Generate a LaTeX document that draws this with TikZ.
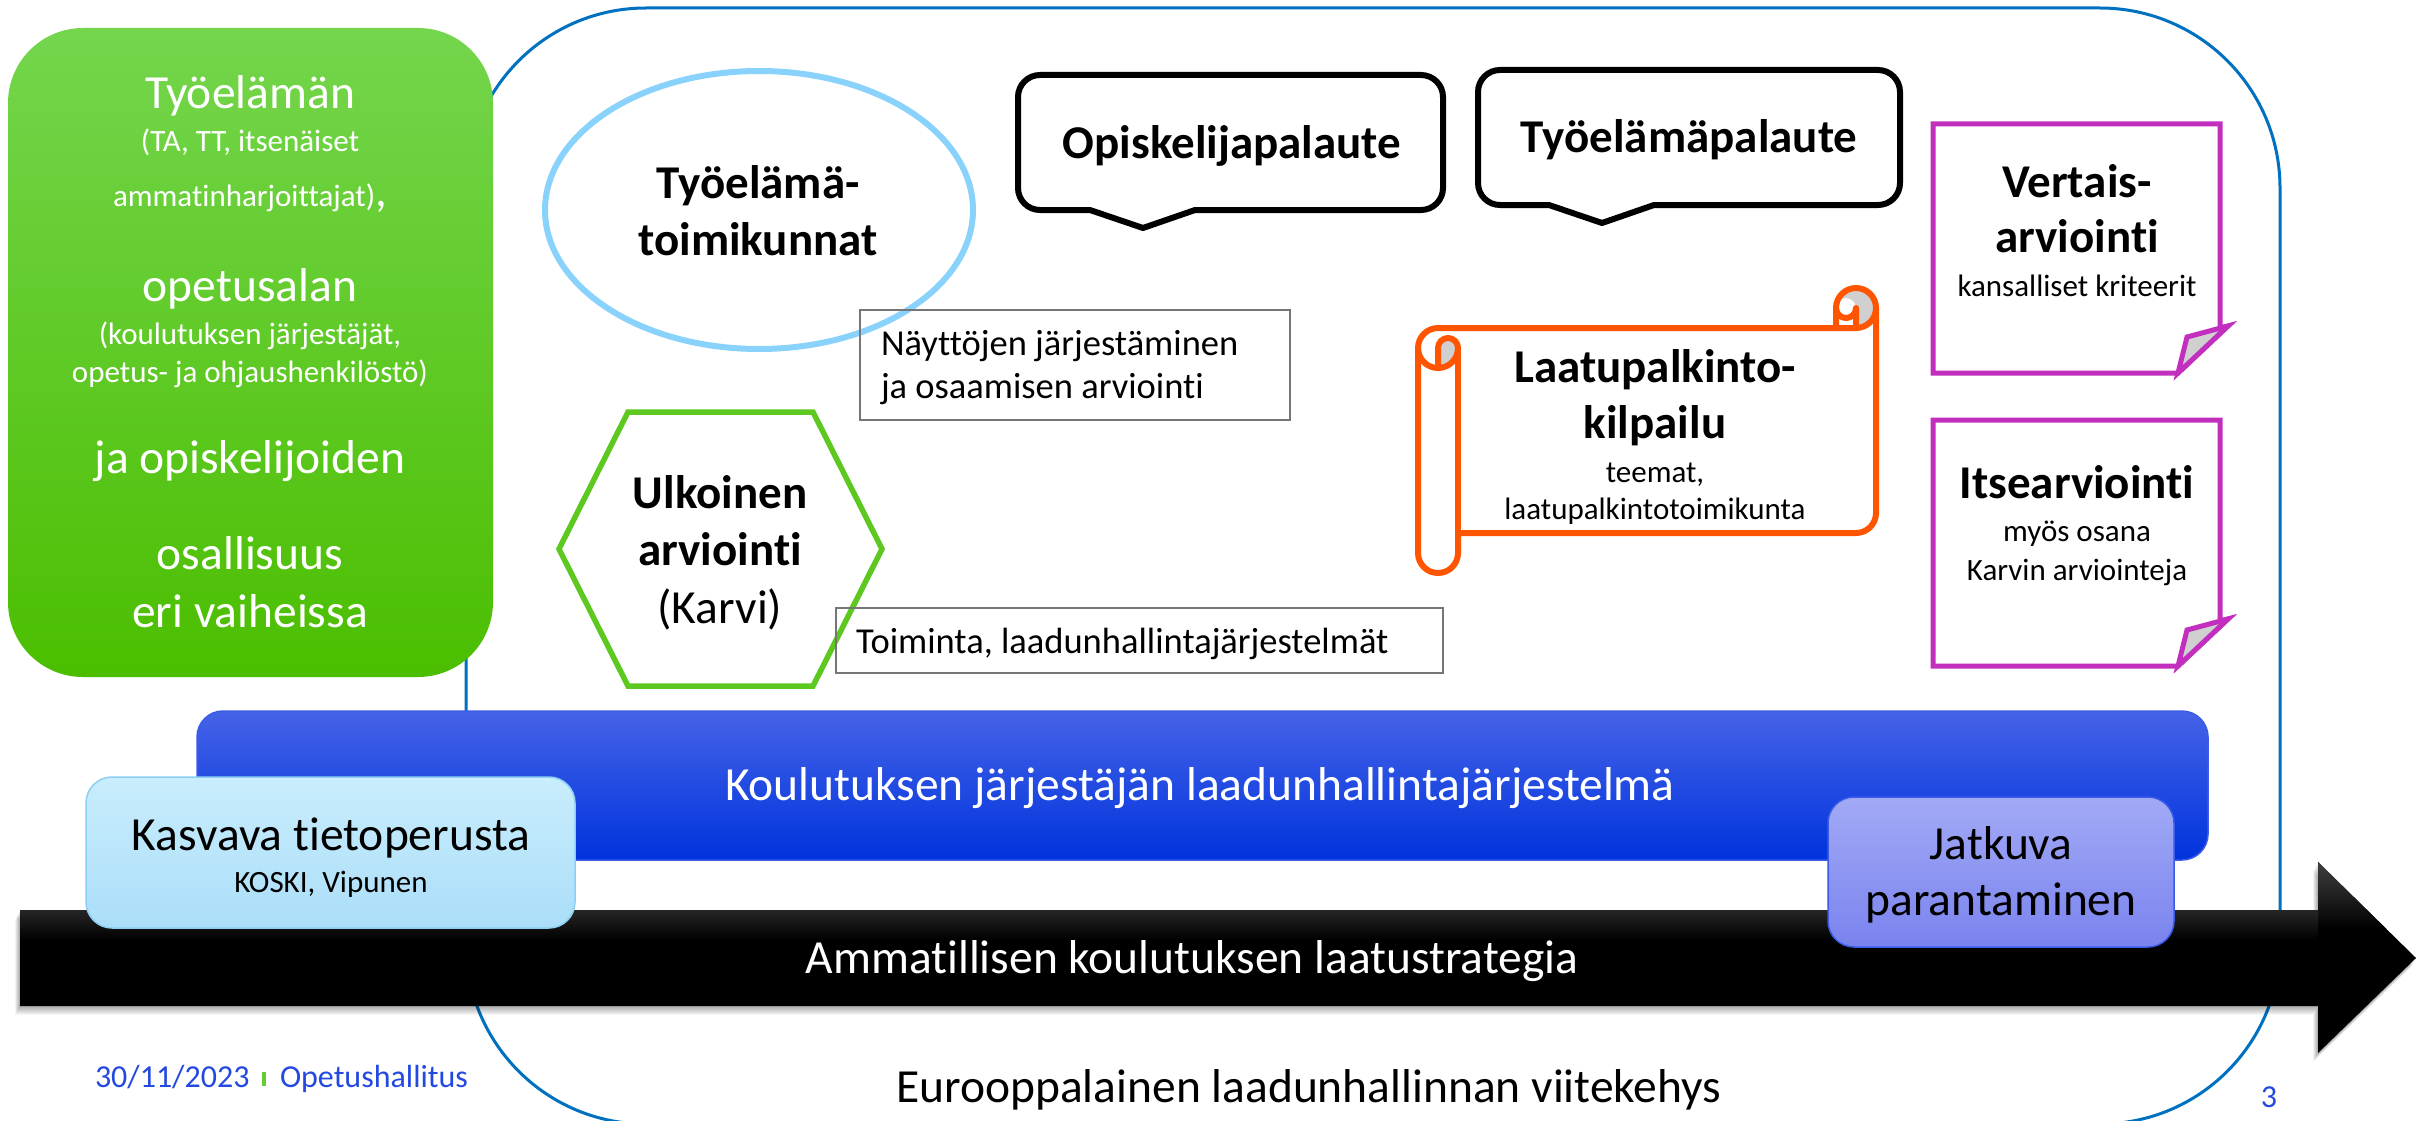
\documentclass[tikz,border=0pt]{standalone}
\usepackage{fontspec}
\setmainfont{Carlito}[Ligatures={NoCommon}]
\definecolor{oblue}{HTML}{0070C0}
\definecolor{gtop}{HTML}{74D64D}
\definecolor{gbot}{HTML}{4BBE00}
\definecolor{ellblue}{HTML}{89D2FB}
\definecolor{hexgreen}{HTML}{5DC81F}
\definecolor{lblgray}{HTML}{767676}
\definecolor{scrollorange}{HTML}{FF5500}
\definecolor{curlgray}{HTML}{D0D0D0}
\definecolor{notemag}{HTML}{C22FBF}
\definecolor{bartop}{HTML}{4563E7}
\definecolor{barmid}{HTML}{0E3DE5}
\definecolor{barbot}{HTML}{0033DD}
\definecolor{barline}{HTML}{3A5CE6}
\definecolor{kastop}{HTML}{C9EDFC}
\definecolor{kasbot}{HTML}{ABDEF9}
\definecolor{kasline}{HTML}{8CCFF2}
\definecolor{jattop}{HTML}{A2AAF6}
\definecolor{jatbot}{HTML}{7A83EE}
\definecolor{jatline}{HTML}{3A5AE8}
\definecolor{ashade}{HTML}{404040}
\definecolor{ashadeb}{HTML}{262626}
\definecolor{footblue}{HTML}{2449E0}
\definecolor{footgreen}{HTML}{66CC33}
\tikzset{
  tx/.style={anchor=base, inner sep=0pt, outer sep=0pt},
  txw/.style={anchor=base west, inner sep=0pt, outer sep=0pt},
  fbig/.style={font=\fontsize{47.5}{56}\selectfont},
  fbold/.style={font=\fontsize{47}{56}\selectfont\bfseries},
  fsmall/.style={font=\fontsize{31}{37}\selectfont},
  flabel/.style={font=\fontsize{36.5}{42}\selectfont},
  ffoot/.style={font=\fontsize{32}{38}\selectfont},
  bubble/.style={draw=black, fill=white, line width=6pt, line join=round},
  lblbox/.style={draw=lblgray, line width=2pt},
  scrollline/.style={draw=scrollorange, line width=6pt, line join=round, line cap=round},
  notebox/.style={draw=notemag, fill=white, line width=5pt, line join=miter},
  notefold/.style={draw=notemag, fill=curlgray, line width=5pt, line join=miter},
  roundbox/.style={rounded corners=26pt, line width=1.5pt},
}
\begin{document}
\begin{tikzpicture}[x=1pt, y=1pt]
\useasboundingbox (0,-1121) rectangle (2417,0);
\clip (0,-1121) rectangle (2417,0);
\fill[white] (0,-1121) rectangle (2417,0);

% outer blue frame
\draw[draw=oblue, line width=3pt, rounded corners=180pt] (466,-8) rectangle (2280,-1124);

% green participation box
\shade[top color=gtop, bottom color=gbot, rounded corners=75pt] (8,-28) rectangle (493,-677);
\node[tx, fbig, text=white] (g1) at (250,-109) {Työelämän};
\node[tx, fsmall, text=white] (g2) at (250,-152) {(TA, TT, itsenäiset};
\node[tx, fsmall, text=white] (g3) at (250,-206) {ammatinharjoittajat){\fontsize{47}{56}\selectfont ,}};
\node[tx, fbig, text=white] (g4) at (250,-301) {opetusalan};
\node[tx, fsmall, text=white] (g5) at (250,-344) {(koulutuksen järjestäjät,};
\node[tx, fsmall, text=white] (g6) at (250,-382) {opetus- ja ohjaushenkilöstö)};
\node[tx, fbig, text=white] (g7) at (250,-473) {ja opiskelijoiden};
\node[tx, fbig, text=white] (g8) at (250,-569) {osallisuus};
\node[tx, fbig, text=white] (g9) at (250,-627) {eri vaiheissa};

% ellipse
\draw[draw=ellblue, line width=6pt] (759,-210) ellipse [x radius=214, y radius=139];
\node[tx, fbold] (e1) at (758,-198) {Työelämä-};
\node[tx, fbold] (e2) at (758,-255) {toimikunnat};

% hexagon
\draw[draw=hexgreen, line width=5.5pt, line join=miter] (628,-412) -- (813,-412) -- (882,-549) -- (813,-686) -- (628,-686) -- (559,-549) -- cycle;
\node[tx, fbold] (h1) at (720,-508) {Ulkoinen};
\node[tx, fbold] (h2) at (720,-565) {arviointi};
\node[tx, fbig] (h3) at (720,-623) {(Karvi)};

% label boxes
\draw[lblbox] (860,-310) rectangle (1290,-420);
\node[txw, flabel] (n1) at (881,-355) {Näyttöjen järjestäminen};
\node[txw, flabel] (n2) at (881,-398) {ja osaamisen arviointi};
\draw[lblbox] (836,-608) rectangle (1443,-673);
\node[txw, flabel] (t1) at (856,-653) {Toiminta, laadunhallintajärjestelmät};

% speech bubbles
\draw[bubble] (1040,-75) -- (1421,-75) arc[start angle=90, end angle=0, radius=22]
  -- (1443,-188) arc[start angle=0, end angle=-90, radius=22]
  -- (1195,-210) -- (1143,-228) -- (1090,-210) -- (1040,-210)
  arc[start angle=270, end angle=180, radius=22]
  -- (1018,-97) arc[start angle=180, end angle=90, radius=22] -- cycle;
\node[tx, fbold] (b1) at (1232,-158) {Opiskelijapalaute};
\draw[bubble] (1500,-70) -- (1878,-70) arc[start angle=90, end angle=0, radius=22]
  -- (1900,-183) arc[start angle=0, end angle=-90, radius=22]
  -- (1654,-205) -- (1602,-223) -- (1549,-205) -- (1500,-205)
  arc[start angle=270, end angle=180, radius=22]
  -- (1478,-92) arc[start angle=180, end angle=90, radius=22] -- cycle;
\node[tx, fbold] (b2) at (1689,-153) {Työelämäpalaute};

% scroll
\begin{scope}[shift={(1418,-288)}]
  \fill[white] (0,-60) arc[start angle=180, delta angle=-90, radius=20]
    -- (418,-40) -- (418,-20) arc[start angle=180, delta angle=-180, radius=20]
    -- (458,-225) arc[start angle=0, delta angle=-90, radius=20]
    -- (40,-245) -- (40,-265) arc[start angle=0, delta angle=-180, radius=20] -- cycle;
  \fill[curlgray] (438,-40) arc[start angle=-90, delta angle=270, radius=20]
    arc[start angle=180, delta angle=-180, radius=10] -- cycle;
  \fill[curlgray] (20,-80) -- (20,-60) arc[start angle=180, delta angle=-180, radius=10]
    arc[start angle=0, delta angle=-90, radius=20] -- cycle;
  \draw[scrollline] (0,-60) arc[start angle=180, delta angle=-90, radius=20]
    -- (418,-40) -- (418,-20) arc[start angle=180, delta angle=-180, radius=20]
    -- (458,-225) arc[start angle=0, delta angle=-90, radius=20]
    -- (40,-245) -- (40,-265) arc[start angle=0, delta angle=-180, radius=20] -- cycle;
  \draw[scrollline] (418,-40) -- (438,-40) arc[start angle=-90, delta angle=90, radius=20];
  \draw[scrollline] (438,-40) -- (438,-20) arc[start angle=0, delta angle=-180, radius=10];
  \draw[scrollline] (20,-80) -- (20,-60) arc[start angle=180, delta angle=-180, radius=10]
    arc[start angle=0, delta angle=-180, radius=20];
  \draw[scrollline] (40,-60) -- (40,-245);
\end{scope}
\node[tx, fbold] (s1) at (1655,-382) {Laatupalkinto-};
\node[tx, fbold] (s2) at (1655,-438) {kilpailu};
\node[tx, fsmall] (s3) at (1655,-482) {teemat,};
\node[tx, fsmall] (s4) at (1655,-519) {laatupalkintotoimikunta};

% folded notes
\filldraw[notebox] (1933,-124) -- (2220,-124) -- (2220,-328) -- (2228,-326) -- (2178,-373) -- (1933,-373) -- cycle;
\filldraw[notefold] (2228,-326) -- (2187,-337) -- (2178,-373) -- cycle;
\node[tx, fbold] (v1) at (2077,-197) {Vertais-};
\node[tx, fbold] (v2) at (2077,-252) {arviointi};
\node[tx, fsmall] (v3) at (2077,-296) {kansalliset kriteerit};
\filldraw[notebox] (1933,-420) -- (2220,-420) -- (2220,-621) -- (2228,-619) -- (2178,-666) -- (1933,-666) -- cycle;
\filldraw[notefold] (2228,-619) -- (2187,-630) -- (2178,-666) -- cycle;
\node[tx, fbold] (i1) at (2077,-498) {Itsearviointi};
\node[tx, fsmall] (i2) at (2077,-541) {myös osana};
\node[tx, fsmall] (i3) at (2077,-580) {Karvin arviointeja};

% blue quality system bar
\shadedraw[roundbox, draw=barline, top color=bartop, middle color=barmid, bottom color=barbot] (197,-711) rectangle (2208,-860);
\node[tx, fbig, text=white] (q1) at (1200,-800) {Koulutuksen järjestäjän laadunhallintajärjestelmä};

% black strategy arrow with shadow
\def\arrowpath{(20,-910) -- (2318,-910) -- (2318,-862) -- (2416,-958) -- (2318,-1053) -- (2318,-1006) -- (20,-1006) -- cycle}
\foreach \d in {1,...,8} {
  \begin{scope}[shift={(-0.6*\d,-1.1*\d)}]
    \fill[black, opacity=0.045] \arrowpath;
  \end{scope}
}
\fill[black] \arrowpath;
\begin{scope}
  \clip \arrowpath;
  \shade[top color=ashade, bottom color=black] (2318,-862) rectangle (2417,-928);
  \shade[top color=ashadeb, bottom color=black] (20,-910) rectangle (2318,-940);
\end{scope}
\node[tx, fbig, text=white] (a1) at (1192,-973) {Ammatillisen koulutuksen laatustrategia};

% knowledge base box
\shadedraw[roundbox, draw=kasline, top color=kastop, bottom color=kasbot] (86,-777) rectangle (575,-928);
\node[tx, fbig] (k1) at (331,-850) {Kasvava tietoperusta};
\node[tx, fsmall] (k2) at (331,-892) {KOSKI, Vipunen};

% continuous improvement box
\shadedraw[roundbox, draw=jatline, top color=jattop, bottom color=jatbot] (1828,-797) rectangle (2174,-947);
\node[tx, fbig] (j1) at (2001,-859) {Jatkuva};
\node[tx, fbig] (j2) at (2001,-915) {parantaminen};

% bottom texts
\node[tx, fbig] (eu) at (1309,-1102) {Eurooppalainen laadunhallinnan viitekehys};
\node[txw, ffoot, text=footblue] (d1) at (95,-1087) {30/11/2023};
\fill[footgreen] (262,-1072) rectangle (266,-1086);
\node[txw, ffoot, text=footblue] (d2) at (280,-1087) {Opetushallitus};
\node[tx, ffoot, text=footblue] (pg) at (2269,-1107) {3};
\end{tikzpicture}
\end{document}
